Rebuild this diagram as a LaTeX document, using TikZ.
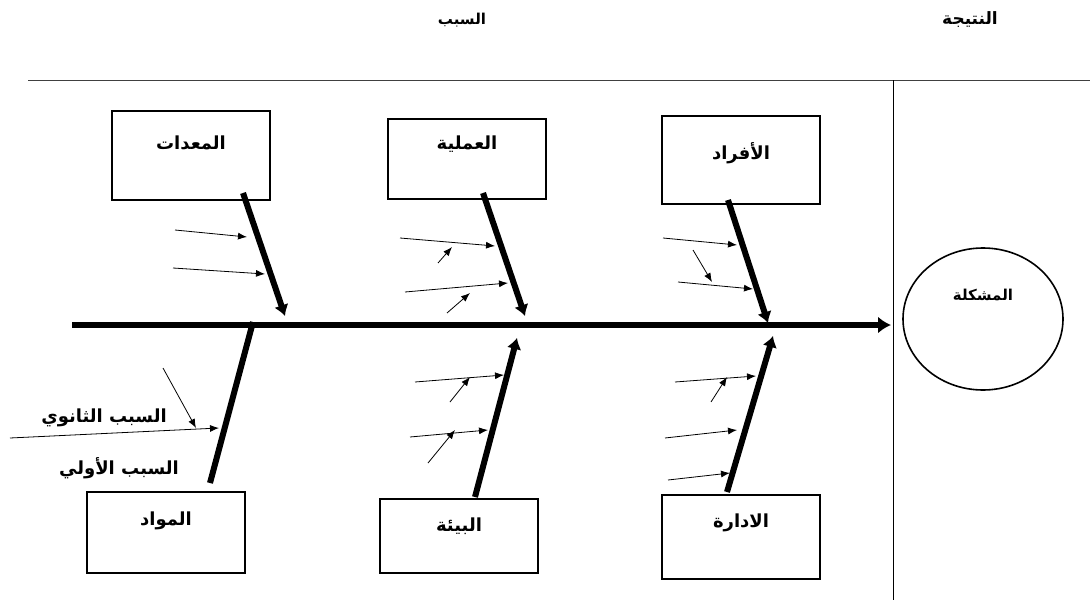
\documentclass[tikz,border=0pt]{standalone}
\usepackage{fontspec}
\newfontfamily\arabicfont[Script=Arabic]{DejaVu Sans}
\TeXXeTstate=1
\usetikzlibrary{shapes.geometric,arrows.meta}

\tikzset{
  cause/.style 2 args={draw,line width=1.6pt,minimum width=158pt,inner sep=0pt,
    text height=#1,text depth=#2,font=\arabicfont\bfseries\fontsize{18}{20}\selectfont},
  bone/.style={line width=6pt},
  sub/.style={line width=0.8pt,-{Latex[length=9pt,width=7pt]}},
  tag/.style={inner sep=0pt,font=\arabicfont\bfseries\fontsize{#1}{20}\selectfont},
  tag/.default=18
}

\begin{document}
\begin{tikzpicture}[x=1pt,y=-1pt]
        \useasboundingbox (0,0) rectangle (1090,605);

        % headers and frame
        \node[tag=15] (cause) at (462,20) {\beginR السبب\endR};
        \node[tag=17] (effect) at (970,20) {\beginR النتيجة\endR};
        \coordinate (topL) at (28,80);
        \coordinate (topR) at (1090,80);
        \coordinate (sepT) at (893,80);
        \coordinate (sepB) at (893,600);
        \draw[line width=1pt,black!75] (topL) -- (topR);
        \draw[line width=0.8pt] (sepT) -- (sepB);

        % problem and spine
        \node[draw,line width=1.6pt,ellipse,minimum width=160pt,minimum height=142pt,inner sep=0pt,
              text height=12pt,text depth=50pt,font=\arabicfont\bfseries\fontsize{15}{17}\selectfont]
              (problem) at (983,319) {\beginR المشكلة\endR};
        \coordinate (tail) at (72,325);
        \coordinate (head) at (891,325);
        \draw[bone,-{Latex[length=13pt,width=17pt]}] (tail) -- (head);

        % cause boxes
        \node[cause={39pt}{50pt},minimum height=89pt,anchor=north] (equip) at (191,110) {\beginR المعدات\endR};
        \node[cause={31pt}{49pt},minimum height=80pt,anchor=north] (process) at (467,118) {\beginR العملية\endR};
        \node[cause={44pt}{44pt},minimum height=88pt,anchor=north] (people) at (741,115) {\beginR الأفراد\endR};
        \node[cause={34pt}{47pt},minimum height=81pt,anchor=north] (material) at (166,491) {\beginR المواد\endR};
        \node[cause={33pt}{41pt},minimum height=74pt,anchor=north] (environ) at (459,498) {\beginR البيئة\endR};
        \node[cause={33pt}{51pt},minimum height=84pt,anchor=north] (manage) at (741,494) {\beginR الادارة\endR};

        % main bones
        \coordinate (equipA) at (243,193);   \coordinate (equipB) at (285,316);
        \coordinate (procA) at (483,193);    \coordinate (procB) at (525,316);
        \coordinate (peopA) at (728,200);    \coordinate (peopB) at (768,323);
        \coordinate (matA) at (210,483);     \coordinate (matB) at (253,322);
        \coordinate (envA) at (475,497);     \coordinate (envB) at (517,338);
        \coordinate (manA) at (727,492);     \coordinate (manB) at (773,336);
        \draw[bone,-{Latex[length=11pt,width=15pt]}] (equipA) -- (equipB);
        \draw[bone,-{Latex[length=11pt,width=15pt]}] (procA) -- (procB);
        \draw[bone,-{Latex[length=11pt,width=15pt]}] (peopA) -- (peopB);
        \draw[bone] (matA) -- (matB);
        \draw[bone,-{Latex[length=11pt,width=15pt]}] (envA) -- (envB);
        \draw[bone,-{Latex[length=11pt,width=15pt]}] (manA) -- (manB);

        % sub causes
        \foreach \n/\xa/\ya/\xb/\yb in {
            s1/175/230/247/237, s2/173/268/265/274,
            s3/400/238/495/246, s4/405/292/508/283, s5/438/263/452/247, s6/447/313/470/293,
            s7/663/238/737/245, s8/678/282/753/289, s9/693/250/712/282,
            s10/10/438/219/428, s11/163/368/196/428,
            s12/415/382/504/375, s13/410/437/488/430, s14/450/402/470/377, s15/428/463/455/430,
            s16/675/382/756/376, s17/665/438/737/430, s18/668/480/730/473, s19/711/402/727/377}{
          \coordinate (\n a) at (\xa,\ya);
          \coordinate (\n b) at (\xb,\yb);
          \draw[sub] (\n a) -- (\n b);
        }

        % legend
        \node[tag] (second) at (104,418) {\beginR السبب الثانوي\endR};
        \node[tag] (first) at (119,468) {\beginR السبب الأولي\endR};
\end{tikzpicture}
\end{document}
